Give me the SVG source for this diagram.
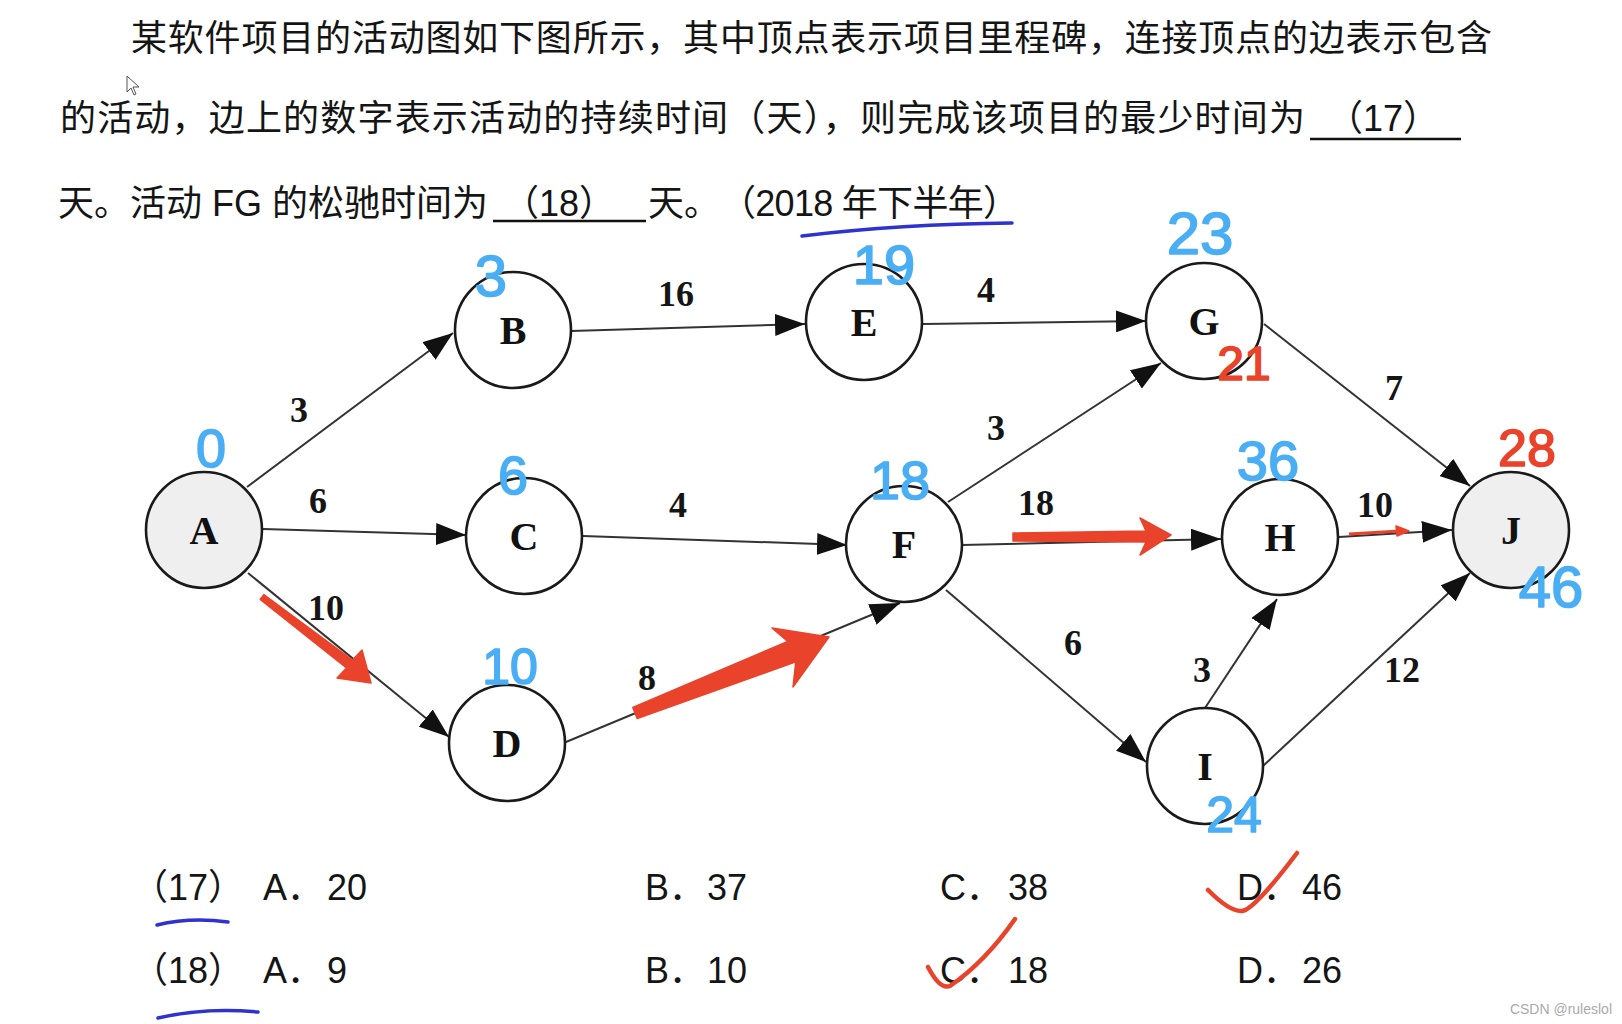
<svg xmlns="http://www.w3.org/2000/svg" width="1622" height="1024" viewBox="0 0 1622 1024">
<defs>
<style>
.q{font-family:"Liberation Sans","Noto Sans CJK SC",sans-serif;font-size:36px;fill:#151515}
.node circle{stroke:#1a1a1a;stroke-width:2.6;fill:#ffffff}
.node.start circle,.node.end circle{fill:#efefef}
.node text{font-family:"Liberation Serif","Times New Roman",serif;font-weight:bold;font-size:40px;text-anchor:middle;fill:#111}
.edges line{stroke:#333;stroke-width:2;marker-end:url(#arr)}
.el{font-family:"Liberation Serif","Times New Roman",serif;font-weight:bold;font-size:36px;text-anchor:middle;fill:#151515}
.hb{font-family:"Liberation Sans",sans-serif;fill:#4aaef5;stroke:#4aaef5;stroke-width:1.6;stroke-linejoin:round;text-anchor:middle}
.hr{font-family:"Liberation Sans",sans-serif;fill:#e9432b;stroke:#e9432b;stroke-width:1.6;stroke-linejoin:round;text-anchor:middle}
.red{fill:#e9432b;stroke:#e9432b;stroke-width:1.5;stroke-linejoin:round}
.tick{fill:none;stroke:#e9432b;stroke-width:4.5;stroke-linecap:round;stroke-linejoin:round}
.ul{fill:none;stroke:#2d33cc;stroke-width:3.5;stroke-linecap:round}
.blank{stroke:#111;stroke-width:2.5}
</style>
<marker id="arr" markerUnits="userSpaceOnUse" markerWidth="30" markerHeight="22" refX="30" refY="11" orient="auto">
<path d="M0,0 L30,11 L0,22 z" fill="#111"/>
</marker>
</defs>
<rect width="1622" height="1024" fill="#ffffff"/>

<!-- question text -->
<g id="question">
<text class="q" x="131" y="51" textLength="1361" lengthAdjust="spacing">某软件项目的活动图如下图所示，其中顶点表示项目里程碑，连接顶点的边表示包含</text>
<text class="q" x="60" y="131" textLength="1245" lengthAdjust="spacing">的活动，边上的数字表示活动的持续时间（天），则完成该项目的最少时间为</text>
<line class="blank" x1="1310" y1="139" x2="1461" y2="139"/>
<text class="q" x="1327" y="131">（17）</text>
<text class="q" x="58" y="216" textLength="430" lengthAdjust="spacing">天。活动 FG 的松驰时间为</text>
<line class="blank" x1="493" y1="221" x2="646" y2="221"/>
<text class="q" x="503" y="216">（18）</text>
<text class="q" x="648" y="216">天。</text>
<text class="q" x="720" y="216" textLength="299" lengthAdjust="spacing">（2018 年下半年）</text>
<path class="ul" d="M802,236 Q900,224 1012,223"/>
<polygon points="127,76 127,92 131,88 134,95 136,94 133,87 139,87" fill="#fff" stroke="#555" stroke-width="1"/>
</g>

<!-- connectors -->
<g id="connectors" class="edges">
<line x1="247" y1="487" x2="453" y2="333"/>
<line x1="263" y1="529" x2="466" y2="535"/>
<line x1="248" y1="573" x2="449" y2="737"/>
<line x1="571" y1="331" x2="805" y2="324"/>
<line x1="583" y1="536" x2="847" y2="545"/>
<line x1="566" y1="742" x2="900" y2="603"/>
<line x1="923" y1="324" x2="1146" y2="321"/>
<line x1="948" y1="502" x2="1161" y2="363"/>
<line x1="962" y1="545" x2="1221" y2="539"/>
<line x1="946" y1="590" x2="1146" y2="762"/>
<line x1="1264" y1="324" x2="1470" y2="486"/>
<line x1="1339" y1="537" x2="1452" y2="530"/>
<line x1="1205" y1="708" x2="1277" y2="599"/>
<line x1="1263" y1="766" x2="1470" y2="573"/>
</g>

<g id="edge-labels">
<text class="el" x="299" y="422">3</text>
<text class="el" x="318" y="513">6</text>
<text class="el" x="326" y="620">10</text>
<text class="el" x="676" y="306">16</text>
<text class="el" x="678" y="517">4</text>
<text class="el" x="647" y="690">8</text>
<text class="el" x="986" y="302">4</text>
<text class="el" x="996" y="440">3</text>
<text class="el" x="1036" y="515">18</text>
<text class="el" x="1073" y="655">6</text>
<text class="el" x="1394" y="400">7</text>
<text class="el" x="1375" y="517">10</text>
<text class="el" x="1202" y="682">3</text>
<text class="el" x="1402" y="682">12</text>
</g>

<!-- nodes -->
<g id="node-A" class="node start"><circle cx="204" cy="530" r="58"/><text x="204" y="544">A</text></g>
<g id="node-B" class="node"><circle cx="513" cy="330" r="58"/><text x="513" y="344">B</text></g>
<g id="node-C" class="node"><circle cx="524" cy="536" r="58"/><text x="524" y="550">C</text></g>
<g id="node-D" class="node"><circle cx="507" cy="743" r="58"/><text x="507" y="757">D</text></g>
<g id="node-E" class="node"><circle cx="864" cy="322" r="58"/><text x="864" y="336">E</text></g>
<g id="node-F" class="node"><circle cx="904" cy="544" r="58"/><text x="904" y="558">F</text></g>
<g id="node-G" class="node"><circle cx="1204" cy="321" r="58"/><text x="1204" y="335">G</text></g>
<g id="node-H" class="node"><circle cx="1280" cy="537" r="58"/><text x="1280" y="551">H</text></g>
<g id="node-I" class="node"><circle cx="1205" cy="766" r="58"/><text x="1205" y="780">I</text></g>
<g id="node-J" class="node end"><circle cx="1511" cy="530" r="58"/><text x="1511" y="544">J</text></g>

<!-- red annotation arrows -->
<g id="red-arrows">
<polygon class="red" points="263.8,594.6 352.5,660 362,650 371,683 337,678 346.5,668 260.2,599.4"/>
<polygon class="red" points="632.8,707.4 787.8,641.4 772,628 829,637 793,687 795.8,661.8 637.2,718.6"/>
<polygon class="red" points="1013,533 1146,531 1140,518 1171,535 1140,555 1146,542 1013,541"/>
<line x1="1349" y1="534" x2="1400" y2="531" stroke="#e9432b" stroke-width="3"/>
<polygon class="red" points="1396,526 1409,531 1397,536"/>
</g>

<!-- handwritten numbers -->
<g id="handwriting">
<text class="hb" x="211" y="467" font-size="54">0</text>
<text class="hb" x="491" y="296" font-size="58">3</text>
<text class="hb" x="513" y="494" font-size="54">6</text>
<text class="hb" x="510" y="684" font-size="50">10</text>
<text class="hb" x="884" y="284" font-size="56">19</text>
<text class="hb" x="1200" y="254" font-size="60">23</text>
<text class="hr" x="1244" y="380" font-size="48">21</text>
<text class="hb" x="900" y="499" font-size="54">18</text>
<text class="hb" x="1268" y="480" font-size="56">36</text>
<text class="hr" x="1527" y="466" font-size="52">28</text>
<text class="hb" x="1551" y="607" font-size="58">46</text>
<text class="hb" x="1234" y="832" font-size="50">24</text>
</g>

<!-- options -->
<g id="options">
<text class="q" x="132" y="900">（17）</text>
<text class="q" x="263" y="900">A．</text><text class="q" x="327" y="900">20</text>
<text class="q" x="645" y="900">B．</text><text class="q" x="707" y="900">37</text>
<text class="q" x="940" y="900">C．</text><text class="q" x="1008" y="900">38</text>
<text class="q" x="1237" y="900">D．</text><text class="q" x="1302" y="900">46</text>
<text class="q" x="132" y="983">（18）</text>
<text class="q" x="263" y="983">A．</text><text class="q" x="327" y="983">9</text>
<text class="q" x="645" y="983">B．</text><text class="q" x="707" y="983">10</text>
<text class="q" x="940" y="983">C．</text><text class="q" x="1008" y="983">18</text>
<text class="q" x="1237" y="983">D．</text><text class="q" x="1302" y="983">26</text>
<path class="ul" d="M157,925 Q190,917 228,922"/>
<path class="ul" d="M158,1018 Q205,1007 258,1012"/>
<path class="tick" d="M1208,890 Q1230,912 1242,911 Q1254,910 1297,853"/>
<path class="tick" d="M928,967 Q940,990 950,986 Q985,962 1015,919"/>
</g>

<text x="1612" y="1014" text-anchor="end" font-family="Liberation Sans,sans-serif" font-size="14" fill="#aaaaaa">CSDN @ruleslol</text>
</svg>
